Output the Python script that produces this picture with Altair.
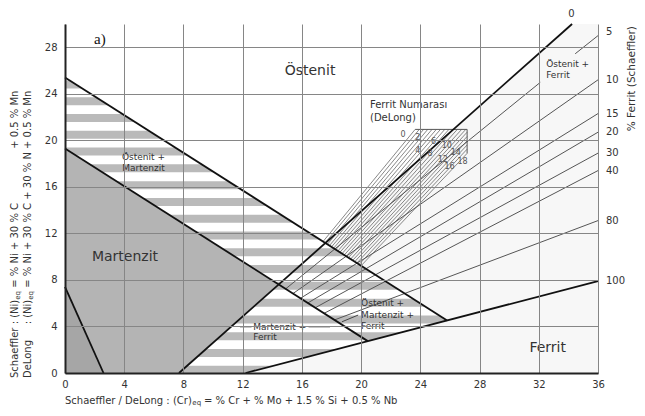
import altair as alt
import pandas as pd

# ---------------- data ----------------
x_ticks = [0, 4, 8, 12, 16, 20, 24, 28, 32, 36]
y_ticks = [0, 4, 8, 12, 16, 20, 24, 28]

# grey horizontal stripes (lower / upper edge of each band)
stripe_lo = [24.46, 23.02, 21.57, 20.13, 18.69, 17.25, 15.80, 14.36, 12.92, 11.47,
             10.03, 8.59, 7.15, 5.70, 4.26, 2.82, 1.37, 0.0]
stripe_hi = [25.15, 23.71, 22.26, 20.82, 19.38, 17.94, 16.49, 15.05, 13.61, 12.16,
             10.72, 9.28, 7.84, 6.39, 4.95, 3.51, 2.06, 0.62]

# regions: x, lower y, upper y
aus_x = [0, 17.59, 34.25]
aus_lo = [25.4, 11.17, 30.0]
aus_hi = [30.0, 30.0, 30.0]

af_x = [17.59, 25.81, 34.25, 36]
af_lo = [11.17, 4.52, 7.32, 7.9]
af_hi = [11.17, 20.46, 30.0, 30.0]

fe_x = [12.2, 36]
fe_lo = [0, 0]
fe_hi = [0, 7.9]

ma_x = [0, 7.7, 14.43]
ma_lo = [0, 0, 7.61]
ma_hi = [19.3, 13.06, 7.61]

co_x = [0, 2.6]
co_lo = [0, 0]
co_hi = [7.4, 0]

# thick phase boundaries
bnd_x0 = [0, 0, 7.7, 12.2, 0]
bnd_y0 = [25.4, 19.3, 0, 0, 7.4]
bnd_x1 = [25.81, 20.45, 34.25, 36, 2.6]
bnd_y1 = [4.52, 2.74, 30.0, 7.9, 0]

# Schaeffler iso-ferrite lines (5 % split around its label)
iso_x0 = [14.9, 34.46, 15.4, 15.9, 16.4, 16.9, 17.5, 18.2]
iso_y0 = [7.23, 27.44, 6.83, 6.42, 6.02, 5.61, 5.13, 4.56]
iso_x1 = [32.1, 36, 36, 36, 36, 36, 36, 36]
iso_y1 = [24.98, 29.0, 25.2, 22.3, 20.7, 18.9, 17.4, 13.1]

# DeLong ferrite number hatch lines
hatch_top_x = [23.65, 23.93, 24.22, 24.50, 24.79, 25.08, 25.36, 25.65, 25.93, 26.22,
               26.50, 26.79, 27.07, 27.16, 27.16, 27.16, 27.16, 27.16, 27.16]
hatch_top_y = [20.94, 20.94, 20.94, 20.94, 20.94, 20.94, 20.94, 20.94, 20.94, 20.94,
               20.94, 20.94, 20.94, 20.70, 20.33, 19.96, 19.60, 19.24, 18.88]
hatch_bot_x = [17.43, 17.57, 17.72, 17.86, 18.00, 18.14, 18.29, 18.43, 18.57, 18.71,
               18.86, 19.00, 19.14, 19.29, 19.43, 19.57, 19.71, 19.86, 20.00]
hatch_bot_y = [11.30, 11.19, 11.06, 10.95, 10.84, 10.72, 10.60, 10.49, 10.38, 10.26,
               10.14, 10.03, 9.92, 9.79, 9.68, 9.57, 9.45, 9.33, 9.22]
box_x = [23.65, 27.16, 27.16]
box_y = [20.94, 20.94, 18.88]

# leader lines of labels
lead_x0 = [11.82, 16.45, 18.7]
lead_y0 = [3.97, 3.97, 4.4]
lead_x1 = [12.6, 17.9, 19.8]
lead_y1 = [3.97, 3.97, 4.98]

# right-hand ferrite % labels
fer_labels = ["5", "10", "15", "20", "30", "40", "80", "100"]
fer_label_y = [29.3, 25.15, 22.3, 20.7, 18.9, 17.4, 13.1, 7.9]

# DeLong ferrite numbers
fn_labels = ["0", "2", "4", "6", "8", "10", "12", "14", "16", "18"]
fn_x = [22.84, 23.83, 23.83, 24.89, 24.66, 25.79, 25.52, 26.40, 25.97, 26.85]
fn_y = [20.43, 20.17, 19.08, 19.85, 18.85, 19.49, 18.34, 18.91, 17.70, 18.15]

# ---------------- helpers ----------------
xs = alt.Scale(domain=[0, 36], nice=False, zero=False)
ys = alt.Scale(domain=[0, 30], nice=False, zero=False)
FONT = "DejaVu Sans"
xaxis = alt.Axis(values=x_ticks, title="", grid=True, gridColor="#868686", gridWidth=1,
                 domainColor="#222222", domainWidth=2, ticks=False, labelPadding=6,
                 labelFlush=False, labelFont=FONT, labelFontSize=10,
                 labelColor="#333333", zindex=1)
yaxis = alt.Axis(values=y_ticks, title="", grid=True, gridColor="#868686", gridWidth=1,
                 domainColor="#222222", domainWidth=2, ticks=False, labelPadding=8,
                 labelFlush=False, labelFont=FONT, labelFontSize=10,
                 labelColor="#333333", zindex=1)


def X(f="x"):
    return alt.X(f"{f}:Q", scale=xs, axis=xaxis)


def Y(f="y"):
    return alt.Y(f"{f}:Q", scale=ys, axis=yaxis)


def area(xv, lo, hi, color):
    df = pd.DataFrame({"x": xv, "y": lo, "y2": hi})
    return alt.Chart(df).mark_area(color=color, opacity=1).encode(
        x=X(), y=Y(), y2="y2:Q")


def segs(x0, y0, x1, y1, color, width):
    rows = []
    for k in range(len(x0)):
        rows.append({"id": k, "i": 0, "x": x0[k], "y": y0[k]})
        rows.append({"id": k, "i": 1, "x": x1[k], "y": y1[k]})
    return alt.Chart(pd.DataFrame(rows)).mark_line(color=color, strokeWidth=width).encode(
        x=X(), y=Y(), detail="id:N", order="i:Q")


def poly(xv, yv, color, width):
    df = pd.DataFrame({"i": list(range(len(xv))), "x": xv, "y": yv})
    return alt.Chart(df).mark_line(color=color, strokeWidth=width).encode(
        x=X(), y=Y(), order="i:Q")


def text(xv, yv, tv, size, align="center", color="#333333", font=FONT, angle=0, dx=0,
         weight="normal"):
    df = pd.DataFrame({"x": xv, "y": yv, "t": tv})
    return alt.Chart(df).mark_text(align=align, baseline="middle", fontSize=size,
                                   font=font, color=color, angle=angle, dx=dx,
                                   fontWeight=weight).encode(x=X(), y=Y(), text="t:N")


# ---------------- layers ----------------
stripes = alt.Chart(pd.DataFrame({"x": [0] * len(stripe_lo), "x2": [36] * len(stripe_lo),
                                  "y": stripe_lo, "y2": stripe_hi})).mark_rect(
    color="#bababa").encode(x=X(), x2="x2:Q", y=Y(), y2="y2:Q")

layers = [
    stripes,
    area(aus_x, aus_lo, aus_hi, "#ffffff"),
    area(af_x, af_lo, af_hi, "#f7f7f7"),
    area(fe_x, fe_lo, fe_hi, "#f7f7f7"),
    area(ma_x, ma_lo, ma_hi, "#b4b4b4"),
    area(co_x, co_lo, co_hi, "#a6a6a6"),
    segs(hatch_bot_x, hatch_bot_y, hatch_top_x, hatch_top_y, "#6a6a6a", 0.8),
    poly(box_x, box_y, "#555555", 1),
    segs(iso_x0, iso_y0, iso_x1, iso_y1, "#555555", 1),
    segs(lead_x0, lead_y0, lead_x1, lead_y1, "#444444", 1),
    segs(bnd_x0, bnd_y0, bnd_x1, bnd_y1, "#111111", 1.8),
    # region labels
    text([2.36], [28.75], ["a)"], 15, font="Liberation Serif", color="#111111"),
    text([16.55], [26.0], ["Östenit"], 14),
    text([4.05], [9.96], ["Martenzit"], 14),
    text([32.6], [2.15], ["Ferrit"], 14),
    text([5.3, 5.3], [18.54, 17.6], ["Östenit +", "Martenzit"], 9),
    text([12.72, 12.72], [3.97, 3.11], ["Martenzit +", "Ferrit"], 9, align="left"),
    text([20.0, 20.0, 20.0], [6.0, 4.98, 4.03], ["Östenit +", "Martenzit +", "Ferrit"], 9,
         align="left"),
    text([32.5, 32.5], [26.6, 25.6], ["Östenit +", "Ferrit"], 9, align="left"),
    text([20.6, 20.6], [23.0, 21.95], ["Ferrit Numarası", "(DeLong)"], 10, align="left"),
    text(fn_x, fn_y, fn_labels, 8, color="#555555"),
    # right ferrite scale
    text([36] * len(fer_labels), fer_label_y, fer_labels, 10, align="left", dx=8),
    text([34.2], [30.85], ["0"], 10),
    text([38.3], [25.3], ["% Ferrit (Schaeffler)"], 10.5, angle=270),
    # x title
    text([0], [-2.4], ["Schaeffler / DeLong : (Cr)"], 10, align="left"),
    text([8.6], [-2.62], ["eq"], 7, align="left"),
    text([9.39], [-2.4], ["= % Cr + % Mo + 1.5 % Si + 0.5 % Nb"], 10, align="left"),
    # y title
    text([-3.38, -2.5], [-0.43, -0.43], ["Schaeffler", "DeLong"], 10, align="left", angle=270),
    text([-3.38, -2.5], [4.18, 4.18], [": (Ni)", ": (Ni)"], 10, align="left", angle=270),
    text([-3.2, -2.32], [6.3, 6.3], ["eq", "eq"], 7, align="left", angle=270),
    text([-3.38, -2.5], [7.33, 7.33],
         ["= % Ni + 30 % C", "= % Ni + 30 % C + 30 % N + 0.5 % Mn"], 10,
         align="left", angle=270),
    text([-3.38], [19.27], ["+ 0.5 % Mn"], 10, align="left", angle=270),
]

chart = alt.layer(*layers).properties(
    width=533, height=349,
    padding={"left": 57, "top": 16, "right": 39, "bottom": 35},
    autosize=alt.AutoSizeParams(type="none"),
    background="#ffffff",
).configure_view(strokeWidth=0)

chart.save("out.html", embed_options={"renderer": "svg", "actions": False})
